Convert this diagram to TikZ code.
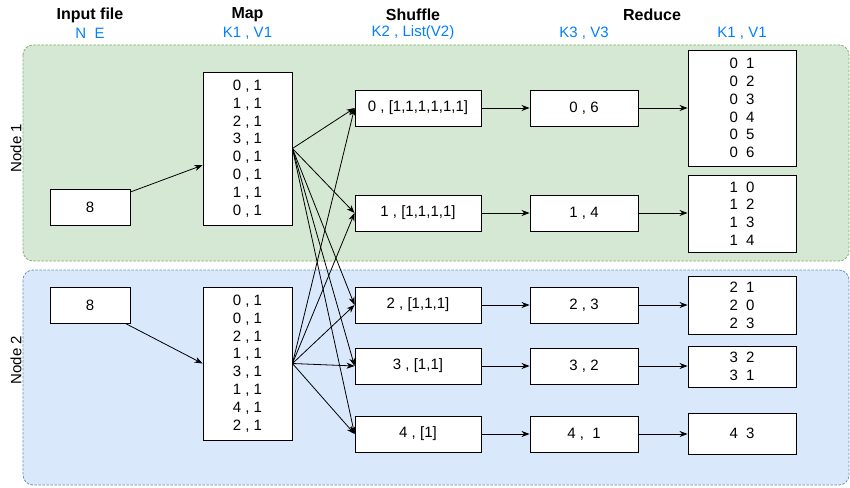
\documentclass[tikz,border=0pt]{standalone}
\usepackage{fontspec}
\setmainfont{Liberation Sans}
\usepackage{tikz}
\usetikzlibrary{arrows.meta}
\definecolor{grfill}{HTML}{D5E8D4}
\definecolor{grline}{HTML}{82B366}
\definecolor{blfill}{HTML}{DAE8FC}
\definecolor{blline}{HTML}{6C8EBF}
\definecolor{keyblue}{HTML}{007FFF}
\tikzset{
  box/.style={draw=black, fill=white, line width=0.9pt, align=center, inner sep=0pt,
    font=\fontsize{15}{17.8}\selectfont},
  title/.style={font=\fontsize{16}{18}\selectfont\bfseries},
  keys/.style={font=\fontsize{15}{18}\selectfont, text=keyblue},
  group/.style={rounded corners=10pt, dash pattern=on 2.5pt off 1.5pt, line width=0.8pt},
  arr/.style={-{Stealth[length=8pt,width=6pt,inset=2.5pt]}, line width=0.8pt}
}
\begin{document}
\begin{tikzpicture}[x=1pt, y=-1pt]
    \useasboundingbox (0,0) rectangle (850,487);
    % the two machines
    \draw[group, draw=grline, fill=grfill] (23,45) rectangle (849,261);
    \draw[group, draw=blline, fill=blfill] (23,270) rectangle (849,485);
    \node[rotate=90, font=\fontsize{15}{16}\selectfont] (lbl1) at (16,148) {Node 1};
    \node[rotate=90, font=\fontsize{15}{16}\selectfont] (lbl2) at (16,360) {Node 2};

    % headings
    \node[title] (tin) at (90,15) {Input file};
    \node[keys] (kin) at (90,33) {N~~E};
    \node[title] (tmap) at (247.5,15) {Map};
    \node[keys] (kmap) at (247.5,33) {K1 , V1};
    \node[title] (tsh) at (413,15) {Shuffle};
    \node[keys] (ksh) at (413,33) {K2 , List(V2)};
    \node[title] (tred) at (652,15) {Reduce};
    \node[keys] (kred) at (584,33) {K3 , V3};
    \node[keys] (kres) at (742,33) {K1 , V1};

    % input and map
    \node[box, minimum width=80pt, minimum height=36pt] (in1) at (90,207) {8};
    \node[box, minimum width=80pt, minimum height=36pt] (in2) at (90,305) {8};
    \node[box, minimum width=89pt, minimum height=153pt] (map1) at (247.5,148.5)
        {0 , 1\\1 , 1\\2 , 1\\3 , 1\\0 , 1\\0 , 1\\1 , 1\\0 , 1};
    \node[box, minimum width=89pt, minimum height=153pt] (map2) at (247.5,363.5)
        {0 , 1\\0 , 1\\2 , 1\\1 , 1\\3 , 1\\1 , 1\\4 , 1\\2 , 1};

    % shuffle
    \node[box, minimum width=126pt, minimum height=36pt] (sh0) at (418,108) {0 , [1,1,1,1,1,1]};
    \node[box, minimum width=126pt, minimum height=36pt] (sh1) at (418,213) {1 , [1,1,1,1]};
    \node[box, minimum width=126pt, minimum height=36pt] (sh2) at (418,305) {2 , [1,1,1]};
    \node[box, minimum width=126pt, minimum height=36pt] (sh3) at (418,366) {3 , [1,1]};
    \node[box, minimum width=126pt, minimum height=36pt] (sh4) at (418,434) {4 , [1]};

    % reduce
    \node[box, minimum width=108pt, minimum height=36pt] (red0) at (584,108) {0 , 6};
    \node[box, minimum width=108pt, minimum height=36pt] (red1) at (584,213) {1 , 4};
    \node[box, minimum width=108pt, minimum height=36pt] (red2) at (584,305) {2 , 3};
    \node[box, minimum width=108pt, minimum height=36pt] (red3) at (584,366) {3 , 2};
    \node[box, minimum width=108pt, minimum height=36pt] (red4) at (584,434) {4 ,~~1};

    \node[box, minimum width=108pt, minimum height=116pt] (res0) at (742,108)
        {0~~1\\0~~2\\0~~3\\0~~4\\0~~5\\0~~6};
    \node[box, minimum width=108pt, minimum height=77pt] (res1) at (742,213.5)
        {1~~0\\1~~2\\1~~3\\1~~4};
    \node[box, minimum width=108pt, minimum height=58pt] (res2) at (742,305.5)
        {2~~1\\2~~0\\2~~3};
    \node[box, minimum width=108pt, minimum height=41pt] (res3) at (742,366.5)
        {3~~2\\3~~1};
    \node[box, minimum width=108pt, minimum height=41pt] (res4) at (742,433.5) {4~~3};

    % connectors
    \draw[arr] (in1) -- (map1);
    \draw[arr] ([xshift=-5pt]in2.south east) -- (map2.west);
    \foreach \s in {sh0,sh1,sh2,sh3,sh4} {
        \draw[arr] (map1.east) -- (\s.west);
        \draw[arr] (map2.east) -- (\s.west);
    }
    \foreach \i in {0,...,4} {
        \draw[arr] (sh\i.east) -- (red\i.west);
        \draw[arr] (red\i.east) -- (red\i.east -| res\i.west);
    }
\end{tikzpicture}
\end{document}
